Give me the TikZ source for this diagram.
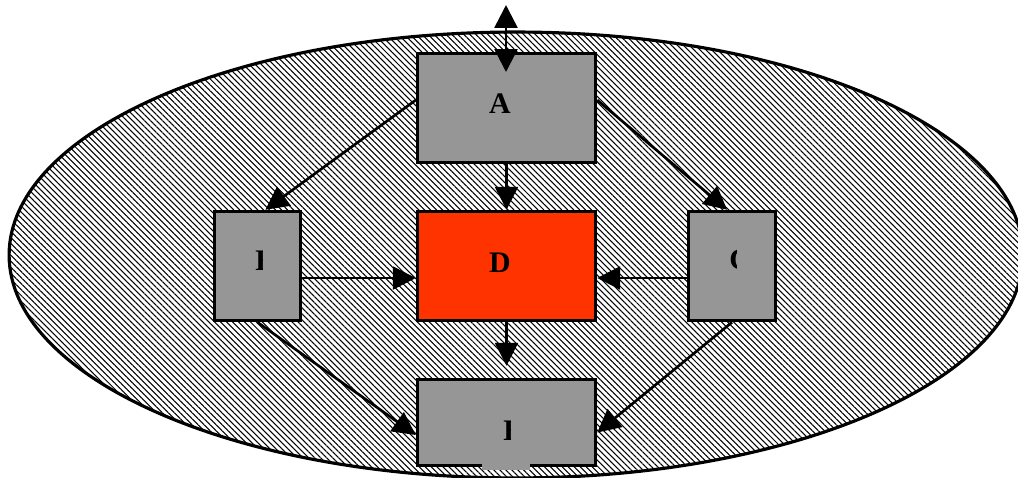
\documentclass[tikz,border=0pt]{standalone}
\usepackage{fontspec}
\setmainfont{Liberation Serif}
\usetikzlibrary{arrows.meta,patterns.meta}

\definecolor{boxgray}{RGB}{150,150,150}
\definecolor{hotred}{RGB}{255,51,0}

\tikzset{
  box/.style={draw, line width=2pt, fill=boxgray, inner sep=0pt,
    minimum width=3.56cm, minimum height=2.18cm},
  tag/.style={font=\fontsize{17}{20}\selectfont\bfseries, inner sep=0pt},
  link/.style={line width=1.5pt, -{Triangle[length=0.46cm,width=0.46cm]}},
}

\begin{document}
\begin{tikzpicture}[x=0.02cm, y=-0.02cm]
    \useasboundingbox (0,0) rectangle (1018,477);
    % hatched ellipse
    \draw[line width=1.8pt, pattern={Lines[angle=-45,distance=2.4pt,line width=0.6pt]}]
      (516,255) ellipse [x radius=10.14cm, y radius=4.46cm];

    % boxes
    \node[box] (A) at (506.5,108) {};
    \node[box, minimum width=1.72cm] (B) at (257.5,266) {};
    \node[box, fill=hotred] (D) at (506.5,266) {};
    \node[box, minimum width=1.74cm] (C) at (732,266) {};
    \node[box, minimum height=1.72cm] (E) at (506.5,422.5) {};
    \fill[boxgray] (482,462) rectangle (530,470);

    % labels
    \node[tag, anchor=base] (labA) at (500,113) {A};
    \node[tag, anchor=base] (labD) at (500,272) {D};
    \begin{scope}
      \clip (250,240) rectangle (262,280);
      \node[tag, anchor=base west] (labB) at (255,270) {B};
    \end{scope}
    \begin{scope}
      \clip (725,240) rectangle (736,280);
      \node[tag, anchor=base west] (labC) at (729,269) {C};
    \end{scope}
    \begin{scope}
      \clip (498,410) rectangle (510,450);
      \node[tag, anchor=base west] (labE) at (503,440) {E};
    \end{scope}

    % connectors
    \coordinate (top) at (506,5);
    \coordinate (aIn) at (506,72);
    \draw[link, {Triangle[length=0.46cm,width=0.46cm]}-{Triangle[length=0.46cm,width=0.46cm]}] (top) -- (aIn);
    \draw[link] (A.175) -- (B.82);
    \draw[link] (A.5) -- (C.95);
    \draw[link] (A.south) -- (D.north);
    \draw[link] ([yshift=-0.24cm]B.east) -- ([yshift=-0.24cm]D.west);
    \draw[link] ([yshift=-0.24cm]C.west) -- ([yshift=-0.24cm]D.east);
    \draw[link, shorten >=0.24cm] (D.south) -- (E.north);
    \draw[link] (B.south) -- ([yshift=-0.25cm]E.west);
    \draw[link] (C.south) -- ([yshift=-0.2cm]E.east);
\end{tikzpicture}
\end{document}
